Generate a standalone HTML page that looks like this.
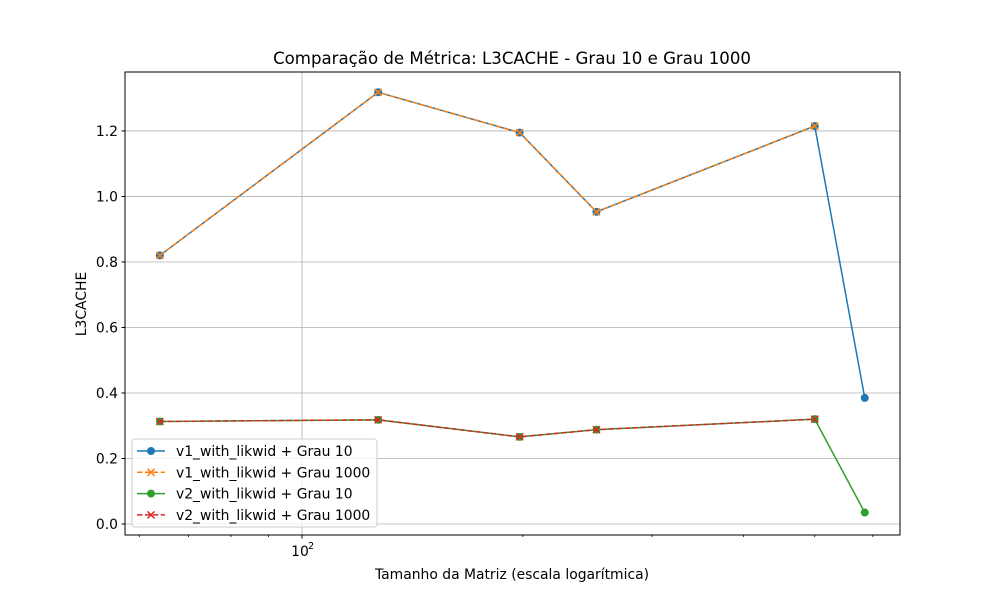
<!DOCTYPE html>
<html><head><meta charset="utf-8">
<style>
body{margin:0;background:#fff;}
svg text{font-family:"DejaVu Sans","Liberation Sans",sans-serif;fill:#000;}
</style></head>
<body>
<svg id="chart" width="1000" height="600" xmlns="http://www.w3.org/2000/svg">
<rect width="1000" height="600" fill="#fff"/>
<g id="grid"></g>
<g id="series"></g>
<rect x="125" y="72" width="775" height="463" fill="none" stroke="#000" stroke-width="1"/>
<g id="axes"></g>
<text x="512" y="64" text-anchor="middle" font-size="16.6">Comparação de Métrica: L3CACHE - Grau 10 e Grau 1000</text>
<text x="512" y="579" text-anchor="middle" font-size="13.9">Tamanho da Matriz (escala logarítmica)</text>
<text x="86" y="304" text-anchor="middle" font-size="13.9" transform="rotate(-90 86 304)">L3CACHE</text>
<g id="legend"></g>
</svg>
<script>
const sizes=[64,127,198,252,500,585];
const v1g10=[0.820,1.318,1.195,0.953,1.215,0.385];
const v1g1000=[0.820,1.318,1.195,0.953,1.215];
const v2g10=[0.313,0.318,0.266,0.288,0.320,0.035];
const v2g1000=[0.313,0.318,0.266,0.288,0.320];
const yTicks=[0,0.2,0.4,0.6,0.8,1.0,1.2];
const xMinor=[60,70,80,90,200,300,400,500,600];
const NS="http://www.w3.org/2000/svg";
const L=125,R=900,T=72,B=535;
const lx0=1.7587,lx1=2.8152,y0=-0.0336,y1=1.380;
function X(v){return L+(Math.log10(v)-lx0)/(lx1-lx0)*(R-L);}
function Y(v){return B-(v-y0)/(y1-y0)*(B-T);}
function mk(tag,attrs,parent){const e=document.createElementNS(NS,tag);for(const k in attrs)e.setAttribute(k,attrs[k]);parent.appendChild(e);return e;}
const grid=document.getElementById('grid'),axes=document.getElementById('axes'),ser=document.getElementById('series');
yTicks.forEach(t=>{const y=Y(t);
 const g=mk('line',{x1:L,x2:R,y1:y,y2:y,stroke:'#b0b0b0','stroke-width':0.8},grid);
 
 
 mk('line',{x1:L-3.5,x2:L,y1:y,y2:y,stroke:'#000'},axes);
 const tx=mk('text',{x:L-7,y:y+5,'text-anchor':'end','font-size':'13.9'},axes);
 tx.textContent=t.toFixed(1);
 
 
});
const xm=X(100);
const gx=mk('line',{x1:xm,x2:xm,y1:T,y2:B,stroke:'#b0b0b0','stroke-width':0.8},grid);


mk('line',{x1:xm,x2:xm,y1:B,y2:B+3.5,stroke:'#000'},axes);
const xt=mk('text',{x:xm-2,y:B+21,'font-size':'13.9','text-anchor':'middle'},axes);
xt.textContent='10';


const sup=mk('text',{x:xm+6,y:B+14,'font-size':'9.7'},axes);sup.textContent='2';
xMinor.forEach(v=>{const x=X(v);mk('line',{x1:x,x2:x,y1:B,y2:B+2,stroke:'#000','stroke-width':0.8},axes);});
function drawSeries(vals,color,dash,marker,name){
 const g=mk('g',{},ser);
 
 
 const pts=vals.map((v,i)=>X(sizes[i])+','+Y(v)).join(' ');
 const a={points:pts,fill:'none',stroke:color,'stroke-width':1.5};
 if(dash)a['stroke-dasharray']='5.5,2.4';
 mk('polyline',a,g);
 vals.forEach((v,i)=>{const x=X(sizes[i]),y=Y(v);
  if(marker==='o')mk('circle',{cx:x,cy:y,r:4,fill:color},g);
  else mk('path',{d:`M${x-3.5},${y-3.5}L${x+3.5},${y+3.5}M${x-3.5},${y+3.5}L${x+3.5},${y-3.5}`,stroke:color,'stroke-width':1.5},g);
 });
}
drawSeries(v1g10,'#1f77b4',false,'o','series-v1-grau10');
drawSeries(v1g1000,'#ff7f0e',true,'x','series-v1-grau1000');
drawSeries(v2g10,'#2ca02c',false,'o','series-v2-grau10');
drawSeries(v2g1000,'#d62728',true,'x','series-v2-grau1000');
const leg=document.getElementById('legend');
mk('rect',{x:132,y:439,width:245,height:88,rx:3,fill:'#fff','fill-opacity':0.8,stroke:'#ccc'},leg);
const entries=[['v1_with_likwid + Grau 10','#1f77b4',false,'o'],['v1_with_likwid + Grau 1000','#ff7f0e',true,'x'],['v2_with_likwid + Grau 10','#2ca02c',false,'o'],['v2_with_likwid + Grau 1000','#d62728',true,'x']];
entries.forEach((e,i)=>{const y=451+i*21.3;
 const g=mk('g',{},leg);
 
 
 const a={x1:137,x2:165,y1:y,y2:y,stroke:e[1],'stroke-width':1.5};if(e[2])a['stroke-dasharray']='5.5,2.4';
 mk('line',a,g);
 if(e[3]==='o')mk('circle',{cx:151,cy:y,r:4,fill:e[1]},g);
 else mk('path',{d:`M147.5,${y-3.5}L154.5,${y+3.5}M147.5,${y+3.5}L154.5,${y-3.5}`,stroke:e[1],'stroke-width':1.5},g);
 const t=mk('text',{x:176,y:y+5,'font-size':'13.9'},g);t.textContent=e[0];
});
</script>
</body></html>
